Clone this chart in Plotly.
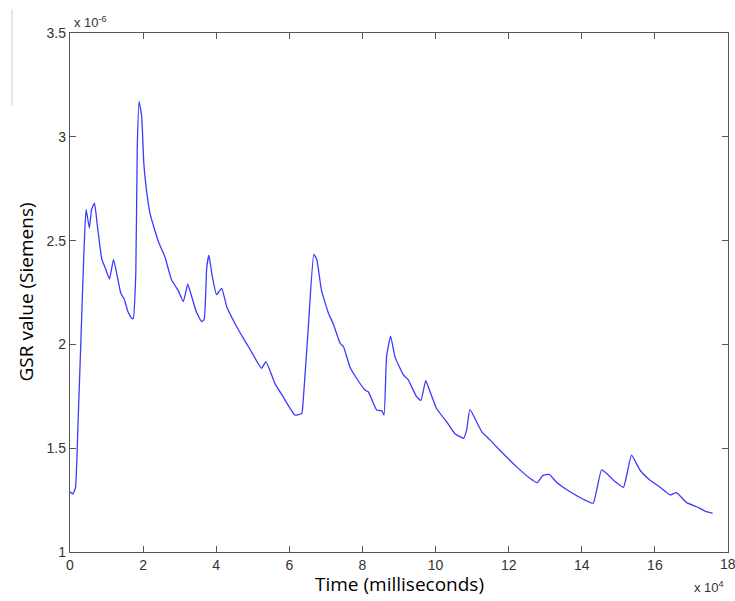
import plotly.graph_objects as go

# Time in units of 1e4 ms, GSR in units of 1e-6 S
time_1e4_ms = [0.0, 0.08, 0.15, 0.22, 0.30, 0.38, 0.44, 0.53, 0.59, 0.67, 0.75, 0.87, 0.96, 1.08,
               1.19, 1.28, 1.39, 1.48, 1.58, 1.69, 1.73, 1.80, 1.84, 1.89, 1.96, 2.02, 2.08, 2.19,
               2.32, 2.43, 2.60, 2.78, 2.96, 3.10, 3.22, 3.28, 3.45, 3.60, 3.67, 3.74, 3.80, 3.88,
               4.01, 4.15, 4.29, 4.56, 4.74, 4.92, 5.24, 5.36, 5.61, 5.83, 6.15, 6.34, 6.38, 6.52,
               6.67, 6.75, 6.88, 7.07, 7.20, 7.39, 7.48, 7.66, 7.84, 8.07, 8.16, 8.39, 8.53, 8.59,
               8.66, 8.77, 8.89, 9.12, 9.25, 9.48, 9.60, 9.73, 9.85, 10.03, 10.30, 10.53, 10.77,
               10.85, 10.94, 11.12, 11.26, 11.49, 11.76, 12.22, 12.58, 12.78, 12.93, 13.11, 13.31,
               13.68, 14.04, 14.31, 14.54, 14.73, 14.91, 15.14, 15.36, 15.59, 15.86, 16.14, 16.41,
               16.59, 16.87, 17.14, 17.41, 17.58]
gsr_1e6_siemens = [1.29, 1.28, 1.31, 1.62, 2.03, 2.44, 2.65, 2.56, 2.65, 2.68, 2.57, 2.41, 2.37, 2.315,
                   2.41, 2.34, 2.246, 2.22, 2.16, 2.125, 2.125, 2.34, 2.95, 3.17, 3.10, 2.87, 2.76, 2.63,
                   2.55, 2.49, 2.42, 2.31, 2.26, 2.206, 2.29, 2.26, 2.16, 2.11, 2.12, 2.37, 2.43, 2.34,
                   2.24, 2.27, 2.18, 2.085, 2.03, 1.978, 1.885, 1.917, 1.81, 1.748, 1.66, 1.668, 1.73, 2.085,
                   2.434, 2.41, 2.26, 2.15, 2.10, 2.005, 1.99, 1.89, 1.837, 1.78, 1.772, 1.684, 1.68, 1.66,
                   1.94, 2.04, 1.94, 1.853, 1.83, 1.748, 1.73, 1.825, 1.772, 1.69, 1.628, 1.57, 1.548,
                   1.588, 1.687, 1.628, 1.58, 1.54, 1.49, 1.41, 1.355, 1.334, 1.368, 1.374, 1.336,
                   1.29, 1.254, 1.235, 1.395, 1.37, 1.339, 1.312, 1.467, 1.395, 1.347, 1.312, 1.275,
                   1.286, 1.238, 1.218, 1.194, 1.186]

x_ticks = [0, 2, 4, 6, 8, 10, 12, 14, 16, 18]
y_ticks = [1, 1.5, 2, 2.5, 3, 3.5]
y_tick_labels = ["1", "1.5", "2", "2.5", "3", "3.5"]
x_title = "Time (milliseconds)"
y_title = "GSR value (Siemens)"

tick_font = dict(family="Liberation Sans, Arial", size=14, color="#333333")

fig = go.Figure()
fig.add_trace(go.Scatter(x=time_1e4_ms, y=gsr_1e6_siemens, mode="lines",
                         line=dict(color="#3b3bff", width=1.3, shape="spline", smoothing=0.4),
                         showlegend=False))

axis_common = dict(showgrid=False, zeroline=False, showline=True, linecolor="#555555",
                   linewidth=1.3, mirror="ticks", ticks="inside", ticklen=6,
                   tickcolor="#555555", tickwidth=1.3, automargin=False,
                   ticklabeloverflow="allow", tickfont=tick_font)

# last x tick label sits on the page edge, so it is drawn as an annotation below
x_tick_text = [str(v) for v in x_ticks[:-1]] + [""]
fig.update_xaxes(range=[0, 18], tickvals=x_ticks, ticktext=x_tick_text, **axis_common)
fig.update_yaxes(range=[1, 3.5], tickvals=y_ticks, ticktext=y_tick_labels, **axis_common)

fig.add_annotation(xref="x", yref="paper", x=x_ticks[-1], y=0, xanchor="center", yanchor="top",
                   yshift=-2, text=str(x_ticks[-1]), showarrow=False, font=tick_font)

# axis titles
fig.add_annotation(xref="paper", yref="paper", x=0.5, y=0, xanchor="center", yanchor="top",
                   yshift=-17, text=x_title, showarrow=False,
                   font=dict(family="Open Sans", size=19, color="#000000"))
fig.add_annotation(xref="paper", yref="paper", x=0, y=0.5, xanchor="center", yanchor="middle",
                   xshift=-45, textangle=-90, text=y_title, showarrow=False,
                   font=dict(family="Open Sans", size=19, color="#000000"))

# MATLAB-style exponent labels
fig.add_annotation(xref="paper", yref="paper", x=0.003, y=1.0, xanchor="left", yanchor="bottom",
                   text="x 10<sup>-6</sup>", showarrow=False, yshift=1,
                   font=dict(family="Liberation Sans, Arial", size=13, color="#333333"))
fig.add_annotation(xref="paper", yref="paper", x=0.997, y=0, xanchor="right", yanchor="top",
                   text="x 10<sup>4</sup>", showarrow=False, yshift=-25,
                   font=dict(family="Liberation Sans, Arial", size=13, color="#333333"))

fig.add_shape(type="line", xref="paper", yref="paper", x0=-0.088, x1=-0.088, y0=1.045, y1=0.86,
              line=dict(color="#cccccc", width=1))

fig.update_layout(width=735, height=601, plot_bgcolor="white", paper_bgcolor="white",
                  margin=dict(l=70, r=7, t=33, b=49))

# remove the default 8px page margin so the figure fills the window exactly; hide the modebar
fig.write_html("out.html", config={"displayModeBar": False},
               post_script="document.body.style.margin='0px';document.body.style.overflow='hidden';")
